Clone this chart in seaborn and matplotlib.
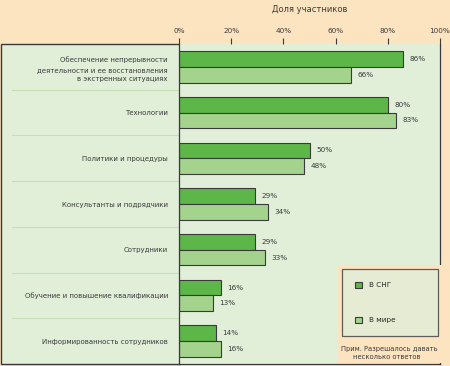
import matplotlib
matplotlib.use('Agg')
import matplotlib.pyplot as plt
from matplotlib.patches import Rectangle, Patch
import seaborn as sns
import pandas as pd

categories = ['Обеспечение непрерывности\nдеятельности и ее восстановления\nв экстренных ситуациях',
              'Технологии',
              'Политики и процедуры',
              'Консультанты и подрядчики',
              'Сотрудники',
              'Обучение и повышение квалификации',
              'Информированность сотрудников']
cis_values = [86, 80, 50, 29, 29, 16, 14]
world_values = [66, 83, 48, 34, 33, 13, 16]
series_names = ['В СНГ', 'В мире']
x_ticks = [0, 20, 40, 60, 80, 100]

peach = '#fde4c1'
panel = '#e1efd9'
dark_green = '#5cb748'
light_green = '#a4d38d'
line_col = '#3a3a3a'

sns.set_style('white')
plt.rcParams['font.family'] = ['Liberation Sans Narrow', 'DejaVu Sans']

df = pd.DataFrame({
    'category': categories * 2,
    'value': cis_values + world_values,
    'series': [series_names[0]] * len(categories) + [series_names[1]] * len(categories),
})

W, H = 450, 366
fig = plt.figure(figsize=(4.5, 3.66), dpi=100)
fig.patch.set_facecolor(peach)

ax = fig.add_axes([179 / W, 2 / H, 261 / W, 320 / H])
ax.set_facecolor(panel)

# left label panel
fig.patches.append(Rectangle((0.5 / W, 2 / H), 179 / W, 320 / H, transform=fig.transFigure,
                             facecolor=panel, edgecolor=line_col, linewidth=1, zorder=-1))

sns.barplot(data=df, x='value', y='category', hue='series', hue_order=series_names,
            palette=[dark_green, light_green], saturation=1, orient='h', width=0.69, ax=ax,
            edgecolor=line_col, linewidth=0.8, legend=False)

ax.set_xlim(0, 100)
ax.set_ylim(len(categories) - 0.5, -0.5)

for cont in ax.containers:
    for bar in cont:
        w = bar.get_width()
        ax.text(w + 2.5, bar.get_y() + bar.get_height() / 2, f'{w:.0f}%',
                va='center', ha='left', fontsize=5.2, color=line_col)

# separators in the label area
for i in range(1, len(categories)):
    ax.plot([-0.64, 0], [i - 0.5, i - 0.5], transform=ax.get_yaxis_transform(),
            color='#c6dfb7', linewidth=0.8, clip_on=False, zorder=0)

ax.xaxis.tick_top()
ax.set_xticks(x_ticks)
ax.set_xticklabels([f'{t}%' for t in x_ticks])
ax.tick_params(axis='x', direction='out', length=4, width=0.8, color=line_col,
               labelsize=5.2, labelcolor=line_col, pad=3)
ax.tick_params(axis='y', length=0, labelsize=5.0, labelcolor=line_col, pad=8)
for lbl in ax.get_yticklabels():
    lbl.set_linespacing(1.7)
ax.set_xlabel('')
ax.set_ylabel('')
ax.spines['top'].set_visible(False)
for s in ['left', 'right', 'bottom']:
    ax.spines[s].set_color(line_col)
    ax.spines[s].set_linewidth(0.9)

fig.text(310 / W, 1 - 10 / H, 'Доля участников', ha='center', va='center',
         fontsize=6, color=line_col)

# peach cut-out for legend
fig.patches.append(Rectangle((338 / W, 3 / H), 112 / W, 98 / H, transform=fig.transFigure,
                             facecolor=peach, edgecolor='none', zorder=3))

handles = [Patch(facecolor=dark_green, edgecolor=line_col, linewidth=0.8),
           Patch(facecolor=light_green, edgecolor=line_col, linewidth=0.8)]
leg = fig.legend(handles, series_names, loc='upper left',
                 bbox_to_anchor=(342 / W, 1 - 337 / H, 96 / W, 68 / H), mode='expand',
                 frameon=True, fancybox=False, fontsize=5.2, handlelength=0.9, handleheight=0.9,
                 labelspacing=3.9, borderpad=1.8, handletextpad=1.0, borderaxespad=0)
leg.get_frame().set_facecolor(panel)
leg.get_frame().set_edgecolor(line_col)
leg.get_frame().set_linewidth(0.9)
leg.set_zorder(4)

fig.text(341 / W, 1 - 349 / H, 'Прим. Разрешалось давать', ha='left', va='center',
         fontsize=4.9, color=line_col, zorder=5)
fig.text(387 / W, 1 - 357 / H, 'несколько ответов', ha='center', va='center',
         fontsize=4.9, color=line_col, zorder=5)

fig.savefig('out.png', dpi=100, facecolor=peach)
